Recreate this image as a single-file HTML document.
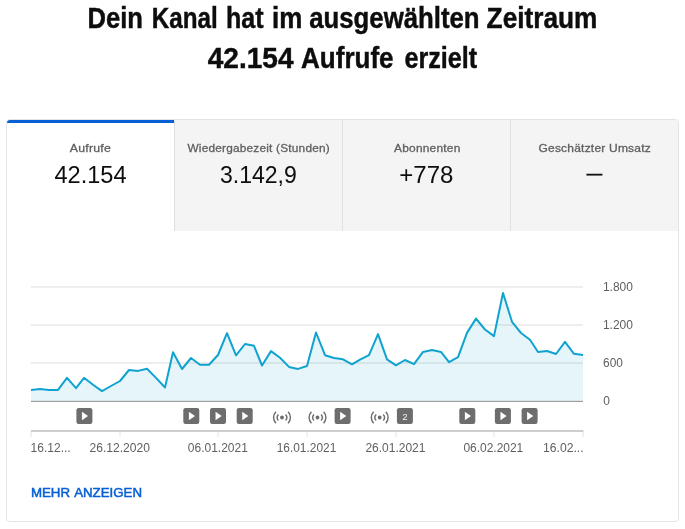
<!DOCTYPE html>
<html lang="de"><head><meta charset="utf-8"><title>Kanal-Analytics</title>
<style>
html,body{margin:0;padding:0;background:#fff;}
body{width:685px;height:529px;position:relative;overflow:hidden;font-family:"Liberation Sans",sans-serif;color:#0d0d0d;}
.t{position:absolute;white-space:nowrap;line-height:1;transform-origin:0 0;}
h1{margin:0;font-weight:bold;font-size:29px;-webkit-text-stroke:0.45px #0d0d0d;position:absolute;left:0;top:0;width:685px;height:80px;}
.card{position:absolute;left:6px;top:119px;width:671px;height:401px;border:1px solid #e4e4e4;border-radius:4px;background:#fff;overflow:hidden;}
.tab{position:absolute;top:0;height:111px;background:#f4f4f4;border-left:1px solid #e0e0e0;}
.tab.sel{background:#fff;border-left:0;}
.bar{position:absolute;left:0;top:0;width:167px;height:3px;background:#065fd4;}
.lbl{font-size:11.5px;letter-spacing:0.2px;color:#606060;-webkit-text-stroke:0.3px #606060;}
.val{font-size:24px;color:#0d0d0d;}
.dash{font-size:16px;-webkit-text-stroke:0.6px #0d0d0d;}
.ax{font-size:12px;color:#606060;}
.chart{position:absolute;left:0;top:0;}
.more{font-size:13.5px;word-spacing:1.2px;color:#065fd4;-webkit-text-stroke:0.5px #065fd4;}
</style></head><body>
<h1>
<span class="t w" id="w1" style="left:87px;top:4px;transform:translate(0.47px,0.00px) scaleX(0.8833);">Dein</span>
<span class="t w" id="w2" style="left:151px;top:4px;transform:translate(0.69px,0.00px) scaleX(0.8354);">Kanal</span>
<span class="t w" id="w3" style="left:225px;top:4px;transform:translate(0.98px,0.00px) scaleX(0.8640);">hat</span>
<span class="t w" id="w4" style="left:271px;top:4px;transform:translate(0.94px,0.00px) scaleX(0.8951);">im</span>
<span class="t w" id="w5" style="left:309px;top:4px;transform:translate(0.19px,0.00px) scaleX(0.8887);">ausgewählten</span>
<span class="t w" id="w6" style="left:486px;top:4px;transform:translate(0.62px,0.00px) scaleX(0.9045);">Zeitraum</span>
<span class="t w" id="w7" style="left:207px;top:44px;transform:translate(0.75px,0.00px) scaleX(0.9665);">42.154</span>
<span class="t w" id="w8" style="left:301px;top:44px;transform:translate(0.08px,0.00px) scaleX(0.8966);">Aufrufe</span>
<span class="t w" id="w9" style="left:404px;top:44px;transform:translate(0.41px,0.00px) scaleX(0.8671);">erzielt</span>
</h1>
<div class="card">
<div class="tab sel" style="left:0px;width:167px;"><div class="bar"></div><div class="t lbl" id="l1" style="left:62px;top:23px;transform:translate(0.85px,0.00px) scaleX(1.0689);">Aufrufe</div><div class="t val" id="v1" style="left:47px;top:43px;transform:translate(0.39px,0.00px) scaleX(0.9831);">42.154</div></div>
<div class="tab" style="left:167px;width:167px;"><div class="t lbl" id="l2" style="left:12px;top:23px;transform:translate(0.49px,0.00px) scaleX(1.0289);">Wiedergabezeit (Stunden)</div><div class="t val" id="v2" style="left:44px;top:43px;transform:translate(0.95px,0.00px) scaleX(0.9585);">3.142,9</div></div>
<div class="tab" style="left:335px;width:167px;"><div class="t lbl" id="l3" style="left:51px;top:23px;transform:translate(0.00px,0.00px) scaleX(1.0391);">Abonnenten</div><div class="t val" id="v3" style="left:56px;top:43px;transform:translate(0.34px,0.00px) scaleX(1.0003);">+778</div></div>
<div class="tab" style="left:503px;width:168px;"><div class="t lbl" id="l4" style="left:27px;top:23px;transform:translate(0.49px,0.00px) scaleX(1.0434);">Geschätzter Umsatz</div><div class="t val dash" id="v4" style="left:75px;top:46px;transform:translate(0.79px,0.00px) scaleX(0.9600);">—</div></div>
</div>
<svg class="chart" width="685" height="529" viewBox="0 0 685 529">
<g fill="#eeeeee"><rect x="31" y="286" width="552" height="2"/><rect x="31" y="324" width="552" height="2"/><rect x="31" y="362" width="552" height="2"/></g>
<path d="M31.0 389.9 L40.0 389.1 L49.0 389.9 L58.0 389.9 L67.0 377.8 L76.0 388.2 L84.0 377.8 L93.0 384.7 L102.0 391.1 L111.0 386.0 L120.0 381.0 L129.0 370.0 L138.0 370.9 L147.0 368.8 L156.0 377.9 L165.0 387.5 L173.0 352.3 L182.0 369.0 L191.0 358.0 L200.0 364.7 L209.0 364.7 L218.0 355.0 L227.0 333.2 L236.0 355.3 L245.0 344.0 L254.0 345.8 L262.0 365.5 L271.0 351.1 L280.0 357.7 L289.0 366.9 L298.0 368.9 L307.0 366.0 L316.0 332.5 L325.0 355.2 L334.0 358.0 L343.0 359.3 L352.0 364.3 L360.0 359.7 L369.0 355.1 L378.0 334.1 L387.0 359.3 L396.0 365.3 L405.0 360.0 L414.0 364.1 L423.0 351.9 L432.0 350.1 L441.0 351.9 L449.0 362.1 L458.0 357.2 L467.0 332.9 L476.0 318.6 L485.0 329.5 L494.0 336.1 L503.0 293.0 L512.0 321.8 L521.0 333.0 L530.0 339.7 L538.0 352.0 L547.0 351.0 L556.0 354.0 L565.0 341.9 L574.0 353.8 L583.0 354.9 L583.0 401 L31.0 401 Z" fill="#0c9fcb" fill-opacity="0.1"/>
<rect x="31" y="400.8" width="552" height="1.2" fill="#9e9e9e"/>
<path d="M31.0 389.9 L40.0 389.1 L49.0 389.9 L58.0 389.9 L67.0 377.8 L76.0 388.2 L84.0 377.8 L93.0 384.7 L102.0 391.1 L111.0 386.0 L120.0 381.0 L129.0 370.0 L138.0 370.9 L147.0 368.8 L156.0 377.9 L165.0 387.5 L173.0 352.3 L182.0 369.0 L191.0 358.0 L200.0 364.7 L209.0 364.7 L218.0 355.0 L227.0 333.2 L236.0 355.3 L245.0 344.0 L254.0 345.8 L262.0 365.5 L271.0 351.1 L280.0 357.7 L289.0 366.9 L298.0 368.9 L307.0 366.0 L316.0 332.5 L325.0 355.2 L334.0 358.0 L343.0 359.3 L352.0 364.3 L360.0 359.7 L369.0 355.1 L378.0 334.1 L387.0 359.3 L396.0 365.3 L405.0 360.0 L414.0 364.1 L423.0 351.9 L432.0 350.1 L441.0 351.9 L449.0 362.1 L458.0 357.2 L467.0 332.9 L476.0 318.6 L485.0 329.5 L494.0 336.1 L503.0 293.0 L512.0 321.8 L521.0 333.0 L530.0 339.7 L538.0 352.0 L547.0 351.0 L556.0 354.0 L565.0 341.9 L574.0 353.8 L583.0 354.9" fill="none" stroke="#10a3d0" stroke-width="2" stroke-linejoin="round" stroke-linecap="butt"/>
<rect x="31" y="430" width="552.5" height="2" fill="#cdcdcd"/>
<rect x="30.5" y="432" width="1" height="5" fill="#e3e3e3"/><rect x="119.5" y="432" width="1" height="5" fill="#e3e3e3"/><rect x="217.5" y="432" width="1" height="5" fill="#e3e3e3"/><rect x="306.5" y="432" width="1" height="5" fill="#e3e3e3"/><rect x="395.5" y="432" width="1" height="5" fill="#e3e3e3"/><rect x="493.5" y="432" width="1" height="5" fill="#e3e3e3"/><rect x="582.5" y="432" width="1" height="5" fill="#e3e3e3"/>
<g transform="translate(76.4 408)"><rect width="16" height="16" rx="2.2" fill="#6d6d6d"/><path d="M5.55 3.7V12.2L11.7 7.95z" fill="#fff"/></g><g transform="translate(183.3 408)"><rect width="16" height="16" rx="2.2" fill="#6d6d6d"/><path d="M5.55 3.7V12.2L11.7 7.95z" fill="#fff"/></g><g transform="translate(210.0 408)"><rect width="16" height="16" rx="2.2" fill="#6d6d6d"/><path d="M5.55 3.7V12.2L11.7 7.95z" fill="#fff"/></g><g transform="translate(236.7 408)"><rect width="16" height="16" rx="2.2" fill="#6d6d6d"/><path d="M5.55 3.7V12.2L11.7 7.95z" fill="#fff"/></g><g transform="translate(334.6 408)"><rect width="16" height="16" rx="2.2" fill="#6d6d6d"/><path d="M5.55 3.7V12.2L11.7 7.95z" fill="#fff"/></g><g transform="translate(459.3 408)"><rect width="16" height="16" rx="2.2" fill="#6d6d6d"/><path d="M5.55 3.7V12.2L11.7 7.95z" fill="#fff"/></g><g transform="translate(494.9 408)"><rect width="16" height="16" rx="2.2" fill="#6d6d6d"/><path d="M5.55 3.7V12.2L11.7 7.95z" fill="#fff"/></g><g transform="translate(521.6 408)"><rect width="16" height="16" rx="2.2" fill="#6d6d6d"/><path d="M5.55 3.7V12.2L11.7 7.95z" fill="#fff"/></g><g fill="none" stroke="#6d6d6d" stroke-width="1.45"><circle cx="282" cy="417.5" r="1.2" fill="#6d6d6d"/><path d="M278.45 414.42A4.7 4.7 0 0 0 278.45 420.58"/><path d="M285.55 414.42A4.7 4.7 0 0 1 285.55 420.58"/><path d="M275.91 411.72A8.4 8.4 0 0 0 275.91 423.28"/><path d="M288.09 411.72A8.4 8.4 0 0 1 288.09 423.28"/></g><g fill="none" stroke="#6d6d6d" stroke-width="1.45"><circle cx="317.5" cy="417.5" r="1.2" fill="#6d6d6d"/><path d="M313.95 414.42A4.7 4.7 0 0 0 313.95 420.58"/><path d="M321.05 414.42A4.7 4.7 0 0 1 321.05 420.58"/><path d="M311.41 411.72A8.4 8.4 0 0 0 311.41 423.28"/><path d="M323.59 411.72A8.4 8.4 0 0 1 323.59 423.28"/></g><g fill="none" stroke="#6d6d6d" stroke-width="1.45"><circle cx="379.7" cy="417.5" r="1.2" fill="#6d6d6d"/><path d="M376.15 414.42A4.7 4.7 0 0 0 376.15 420.58"/><path d="M383.25 414.42A4.7 4.7 0 0 1 383.25 420.58"/><path d="M373.61 411.72A8.4 8.4 0 0 0 373.61 423.28"/><path d="M385.79 411.72A8.4 8.4 0 0 1 385.79 423.28"/></g><g transform="translate(396.9 408)"><rect width="16" height="16" rx="2.2" fill="#6d6d6d"/><text x="8" y="11.9" text-anchor="middle" font-size="9.6" fill="#fff" fill-opacity="0.92" font-family="Liberation Sans, sans-serif">2</text></g>
</svg>
<div class="t ax" id="y1" style="left:602px;top:281px;transform:translate(0.89px,0.00px) scaleX(0.9995);">1.800</div>
<div class="t ax" id="y2" style="left:602px;top:319px;transform:translate(0.89px,0.00px) scaleX(0.9995);">1.200</div>
<div class="t ax" id="y3" style="left:603px;top:357px;transform:translate(0.10px,0.00px) scaleX(0.9895);">600</div>
<div class="t ax" id="y4" style="left:603px;top:395px;transform:translate(0.18px,0.00px) scaleX(0.9938);">0</div>
<div class="t ax" id="x1" style="left:30px;top:442px;transform:translate(0.59px,0.00px) scaleX(1.0018);">16.12...</div>
<div class="t ax" id="x2" style="left:89px;top:442px;transform:translate(0.57px,0.00px) scaleX(1.0056);">26.12.2020</div>
<div class="t ax" id="x3" style="left:187px;top:442px;transform:translate(0.83px,0.00px) scaleX(0.9995);">06.01.2021</div>
<div class="t ax" id="x4" style="left:276px;top:442px;transform:translate(0.66px,0.00px) scaleX(0.9926);">16.01.2021</div>
<div class="t ax" id="x5" style="left:365px;top:442px;transform:translate(0.38px,0.00px) scaleX(0.9996);">26.01.2021</div>
<div class="t ax" id="x6" style="left:463px;top:442px;transform:translate(0.40px,0.00px) scaleX(0.9968);">06.02.2021</div>
<div class="t ax" id="x7" style="left:542px;top:442px;transform:translate(0.98px,0.00px) scaleX(1.0145);">16.02...</div>
<div class="t more" id="more" style="left:30px;top:486px;transform:translate(0.92px,0.00px) scaleX(0.9836);">MEHR ANZEIGEN</div>
</body></html>
